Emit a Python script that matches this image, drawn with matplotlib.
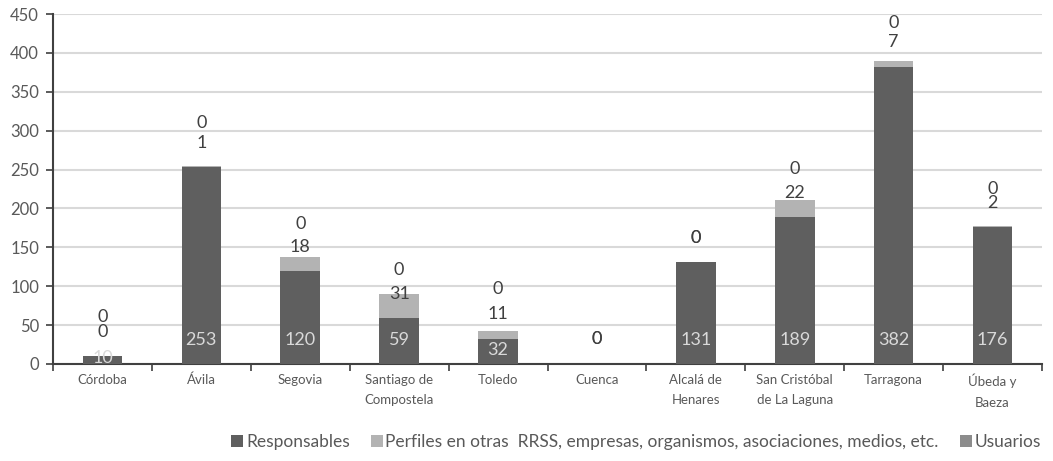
import matplotlib
matplotlib.use("Agg")
import matplotlib.pyplot as plt
import numpy as np

# ---- data ----
categories = ["Córdoba", "Ávila", "Segovia", "Santiago de\nCompostela", "Toledo",
              "Cuenca", "Alcalá de\nHenares", "San Cristóbal\nde La Laguna",
              "Tarragona", "Úbeda y\nBaeza"]
responsables = [10, 253, 120, 59, 32, 0, 131, 189, 382, 176]
perfiles = [0, 1, 18, 31, 11, 0, 0, 22, 7, 2]
usuarios = [0, 0, 0, 0, 0, 0, 0, 0, 0, 0]
series_names = ["Responsables",
                "Perfiles en otras  RRSS, empresas, organismos, asociaciones, medios, etc.",
                "Usuarios"]
yticks = [0, 50, 100, 150, 200, 250, 300, 350, 400, 450]

# label offsets (pixels above stack top) as placed in the original
perf_dy_px = [24, 23, 10, 0, 17, 25, 24, 7, 19, 23]
usu_dy_px = [39, 43, 33, 24, 42, 25, 24, 31, 38, 37]

FONT = "Lato"
plt.rcParams["font.family"] = [FONT, "DejaVu Sans"]

c_resp = "#5f5f5f"
c_perf = "#b3b3b3"
c_usu = "#8c8c8c"
txt = "#595959"

fig = plt.figure(figsize=(10.53, 4.61), dpi=100)
ax = fig.add_axes([53/1053, 1-364/461, (1042-53)/1053, (364-14)/461])

x = np.arange(len(categories))
resp = np.array(responsables)
perf = np.array(perfiles)
usu = np.array(usuarios)
w = 0.4
ax.bar(x, resp, w, color=c_resp, zorder=3, label=series_names[0])
ax.bar(x, perf, w, bottom=resp, color=c_perf, zorder=3, label=series_names[1])
ax.bar(x, usu, w, bottom=resp+perf, color=c_usu, zorder=3, label=series_names[2])

ax.set_xlim(-0.5, len(categories)-0.5)
ax.set_ylim(0, 450)
ax.set_yticks(yticks)
ax.set_yticklabels([str(v) for v in yticks], fontsize=12, color=txt)
ax.yaxis.grid(True, color="#d9d9d9", linewidth=1.5, zorder=0)
ax.set_axisbelow(True)

ax.set_xticks(x)
ax.set_xticklabels(categories, fontsize=9.5, color=txt, linespacing=1.85)
ax.set_xticks(np.arange(len(categories)+1) - 0.5, minor=True)
ax.tick_params(axis="x", which="major", length=0, pad=7)
ax.tick_params(axis="x", which="minor", length=5, width=1.2, color="#404040", direction="out")
ax.tick_params(axis="y", length=5, width=1.2, color="#404040", pad=5)

for s in ["top", "right"]:
    ax.spines[s].set_visible(False)
ax.spines["left"].set_color("#404040")
ax.spines["left"].set_linewidth(1.5)
ax.spines["bottom"].set_color("#404040")
ax.spines["bottom"].set_linewidth(1.5)

px2pt = 72 / fig.dpi
ppu = (364-14) / 450.0  # pixels per data unit
for i in range(len(categories)):
    bar_px = resp[i] * ppu
    off = min(24, bar_px/2 + 2)
    if resp[i] > 0:
        ax.annotate(str(resp[i]), (x[i], 0), xytext=(0, off*px2pt), textcoords="offset points",
                    ha="center", va="center", fontsize=13, color="#d9d9d9", zorder=5)
    top = resp[i] + perf[i] + usu[i]
    ax.annotate(str(perf[i]), (x[i], top), xytext=(0, perf_dy_px[i]*px2pt), textcoords="offset points",
                ha="center", va="center", fontsize=13, color="#404040", zorder=5)
    ax.annotate(str(usu[i]), (x[i], top), xytext=(0, usu_dy_px[i]*px2pt), textcoords="offset points",
                ha="center", va="center", fontsize=13, color="#404040", zorder=5)

handles, labels = ax.get_legend_handles_labels()
leg = fig.legend(handles, labels, loc="center", bbox_to_anchor=(636/1053, 1-442/461),
                 ncol=3, frameon=False, fontsize=12.5, handlelength=0.7, handleheight=0.7,
                 handletextpad=0.15, columnspacing=1.2, labelcolor=txt)

fig.savefig("out.png", dpi=100)
